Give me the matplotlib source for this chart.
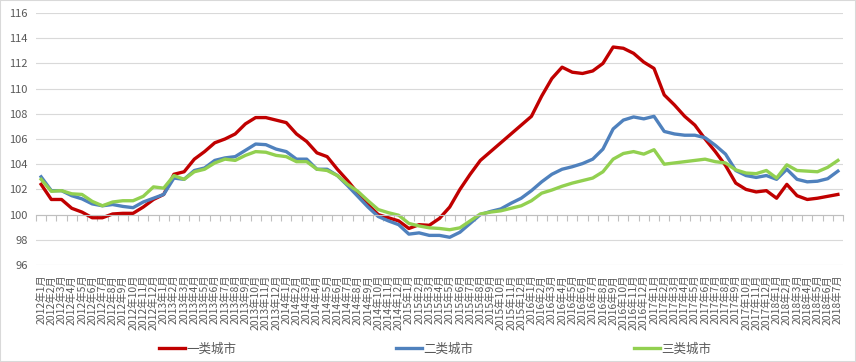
import numpy as np
import matplotlib
matplotlib.use("Agg")
from matplotlib import pyplot as plt
from matplotlib.patches import Rectangle

plt.rcParams['font.family'] = ['Noto Sans CJK SC', 'DejaVu Sans']

# months 2012年1月 .. 2018年7月
months = [f"{y}年{m}月" for y in range(2012, 2019) for m in range(1, 13)][:79]

tier1 = [102.4, 101.2, 101.2, 100.5, 100.2, 99.75, 99.75, 100.05, 100.1, 100.1,
         100.6, 101.2, 101.6, 103.2, 103.4, 104.4, 105.0, 105.7, 106.0, 106.4,
         107.2, 107.7, 107.7, 107.5, 107.3, 106.4, 105.8, 104.9, 104.6, 103.6,
         102.7, 101.7, 100.8, 100.0, 99.75, 99.5, 98.9, 99.2, 99.15, 99.7,
         100.6, 102.0, 103.2, 104.3, 105.0, 105.7, 106.4, 107.1, 107.8, 109.4,
         110.8, 111.7, 111.3, 111.2, 111.4, 112.0, 113.3, 113.2, 112.8, 112.1,
         111.6, 109.5, 108.7, 107.8, 107.1, 106.0, 105.0, 103.9, 102.5, 102.0,
         101.8, 101.9, 101.3, 102.4, 101.5, 101.2, 101.3, 101.45, 101.6]

tier2 = [103.0, 101.9, 101.9, 101.5, 101.25, 100.85, 100.7, 100.8, 100.65, 100.55,
         101.0, 101.3, 101.6, 102.9, 102.8, 103.5, 103.7, 104.3, 104.5, 104.6,
         105.1, 105.6, 105.55, 105.2, 105.0, 104.4, 104.4, 103.6, 103.6, 103.1,
         102.3, 101.45, 100.6, 99.85, 99.5, 99.2, 98.45, 98.55, 98.35, 98.35,
         98.2, 98.6, 99.3, 100.0, 100.25, 100.45, 100.9, 101.3, 101.9, 102.6,
         103.2, 103.6, 103.8, 104.05, 104.4, 105.2, 106.8, 107.5, 107.75, 107.6,
         107.8, 106.6, 106.4, 106.3, 106.3, 106.1, 105.5, 104.8, 103.5, 103.1,
         102.95, 103.1, 102.8, 103.6, 102.8, 102.6, 102.65, 102.85, 103.45]

tier3 = [102.8, 101.85, 101.9, 101.65, 101.6, 101.05, 100.7, 101.0, 101.1, 101.1,
         101.45, 102.2, 102.1, 103.1, 102.8, 103.4, 103.6, 104.1, 104.4, 104.3,
         104.7, 105.0, 104.95, 104.7, 104.6, 104.2, 104.2, 103.6, 103.5, 103.1,
         102.4, 101.85, 101.1, 100.4, 100.15, 99.95, 99.3, 99.1, 98.95, 98.9,
         98.8, 98.95, 99.5, 100.05, 100.2, 100.3, 100.5, 100.7, 101.1, 101.7,
         101.95, 102.25, 102.5, 102.7, 102.9, 103.4, 104.4, 104.85, 105.0, 104.8,
         105.15, 104.0, 104.1, 104.2, 104.3, 104.4, 104.2, 104.1, 103.55, 103.3,
         103.25, 103.5, 102.9, 103.95, 103.5, 103.45, 103.4, 103.75, 104.3]

series_names = ["一类城市", "二类城市", "三类城市"]
colors = ["#C00000", "#4F81BD", "#92D050"]
grey = "#595959"

fig = plt.figure(figsize=(8.56, 3.62), dpi=100)
ax = fig.add_axes([36/856, (362-265)/362, (843-36)/856, 252/362])

x = np.arange(len(months))
for vals, name, c in zip([tier1, tier2, tier3], series_names, colors):
    ax.plot(x, vals, color=c, lw=2.4, label=name, solid_joinstyle='round')

ax.set_xlim(-0.5, len(months) - 0.5)
ax.set_ylim(96, 116)
ax.set_yticks(np.arange(96, 117, 2))
ax.grid(axis='y', color='#d9d9d9', lw=0.8)
ax.set_axisbelow(True)
for s in ['top', 'right', 'left']:
    ax.spines[s].set_visible(False)
ax.tick_params(axis='y', length=0, labelsize=8, labelcolor=grey, pad=6)

# category axis crosses at 100, ticks between categories
ax.spines['bottom'].set_position(('data', 100))
ax.spines['bottom'].set_color('#bfbfbf')
ax.set_xticks(np.arange(len(months) + 1) - 0.5)
ax.set_xticklabels([])
ax.tick_params(axis='x', length=4, color='#bfbfbf', direction='out')

# labels sit low, under the plot area
sec = ax.secondary_xaxis(0.0)
sec.set_xticks(x, months, rotation=90)
sec.tick_params(length=0, labelsize=7.5, labelcolor=grey, pad=7)
sec.spines['bottom'].set_visible(False)

fig.legend(loc='center', bbox_to_anchor=(0.508, 0.036), ncol=3, frameon=False,
           fontsize=9, labelcolor=grey, handlelength=2.1, handletextpad=0.1,
           columnspacing=12.8)

fig.patches.append(Rectangle((0, 0), 1, 1, transform=fig.transFigure,
                             fill=False, edgecolor='#d9d9d9', lw=1.5))

fig.savefig("out.png", dpi=100)
